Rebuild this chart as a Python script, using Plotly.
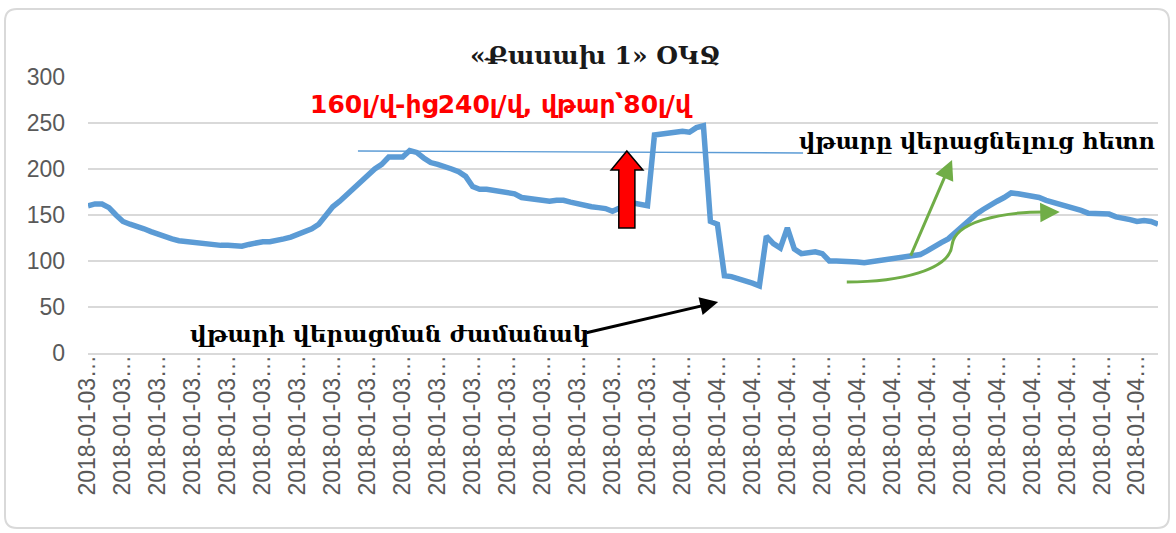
import plotly.graph_objects as go

# Flow readings (l/s), one sample every 0.2 of a tick-label interval
flow = [
    160, 162, 162, 158, 150, 143, 140, 138, 135, 132,
    129, 126, 124, 122, 121, 120, 120, 119, 118, 117,
    117, 116, 116, 118, 120, 121, 121, 122, 124, 126,
    129, 131, 135, 140, 149, 159, 165, 172, 179, 186,
    195, 200, 205, 213, 213, 213, 220, 218, 212, 207,
    205, 203, 200, 197, 192, 181, 178, 178, 177, 176,
    175, 173, 169, 168, 168, 167, 165, 166, 166, 164,
    162, 161, 159, 158, 157, 154, 158, 161, 163, 162,
    160, 237, 238, 239, 240, 241, 240, 245, 247, 143,
    140, 84, 83, 81, 79, 76, 73, 127, 119, 114,
    136, 113, 108, 109, 110, 108, 100, 100, 100, 99,
    99, 98, 99, 100, 101, 102, 104, 104, 105, 107,
    111, 116, 120, 124, 131, 138, 145, 151, 156, 161,
    165, 169, 174, 173, 172, 171, 169, 166, 164, 162,
    160, 158, 155, 152, 152, 152, 151, 148, 147, 145,
    143, 144, 143, 140,
]
SAMPLE_STEP = 0.2
sample_pos = [i * SAMPLE_STEP for i in range(len(flow))]

# Category tick labels (truncated timestamps)
tick_days = ["2018-01-03"] * 17 + ["2018-01-04"] * 14
tick_text = [d + "\u2026" for d in tick_days]
tick_pos = list(range(len(tick_days)))

title_text = "«Քասախ 1» ՕԿՋ"
jump_text = "160լ/վ-ից240լ/վ, վթար՝80լ/վ"
after_text = "վթարը վերացնելուց հետո"
during_text = "վթարի վերացման ժամանակ"

BLUE = "#5B9BD5"
GREEN = "#70AD47"
GRID = "#D9D9D9"
TICK_FONT = dict(family="Liberation Sans, Arial, sans-serif", size=23, color="#595959")
SERIF_B = "DejaVu Serif, serif"

W, H = 1176, 533
L, R, T, B = 88, 18, 77, 180
PW, PH = W - L - R, H - T - B


def px(x):
    return (x - L) / PW


def py(y):
    return (H - B - y) / PH


fig = go.Figure()
fig.add_trace(go.Scatter(
    x=sample_pos, y=flow, mode="lines",
    line=dict(color=BLUE, width=5.5, shape="linear"),
    hoverinfo="skip", showlegend=False,
))

shapes = []
# chart frame with rounded corners
x0, x1, y0, y1 = px(5), px(1169), py(9), py(528)
rx, ry = 12 / PW, 12 / PH
frame = (f"M {x0+rx},{y0} L {x1-rx},{y0} Q {x1},{y0} {x1},{y0-ry} "
         f"L {x1},{y1+ry} Q {x1},{y1} {x1-rx},{y1} L {x0+rx},{y1} "
         f"Q {x0},{y1} {x0},{y1+ry} L {x0},{y0-ry} Q {x0},{y0} {x0+rx},{y0} Z")
shapes.append(dict(type="path", xref="paper", yref="paper", path=frame,
                   line=dict(color=GRID, width=2), layer="below"))

# reference level line
shapes.append(dict(type="line", xref="x", yref="y", x0=7.72, y0=219.6, x1=20.45, y1=217.4,
                   line=dict(color=BLUE, width=1.4)))

# red block arrow
block = ("M 15.41,219.6 L 15.87,198.9 L 15.64,198.9 L 15.64,135.9 "
         "L 15.18,135.9 L 15.18,198.9 L 14.96,198.9 Z")
shapes.append(dict(type="path", xref="x", yref="y", path=block,
                   fillcolor="#FF0000", line=dict(color="black", width=1.5)))

# curved green arrow body
curve = ("M 21.70,77.2 C 23.22,77.2 24.65,90.2 24.71,117.4 "
         "C 24.79,142.4 26.08,153.3 27.37,153.3")
shapes.append(dict(type="path", xref="x", yref="y", path=curve,
                   line=dict(color=GREEN, width=3)))

annotations = [
    dict(text=f"<b>{title_text}</b>", xref="paper", yref="paper", x=px(595), y=py(55),
         xanchor="center", yanchor="middle", showarrow=False,
         font=dict(family=SERIF_B, size=25, color="#1a1a1a")),
    dict(text=f"<b>{jump_text}</b>", xref="paper", yref="paper", x=px(501), y=py(104),
         xanchor="center", yanchor="middle", showarrow=False,
         font=dict(family="DejaVu Sans, sans-serif", size=25, color="#FF0000")),
    dict(text=f"<b>{after_text}</b>", xref="paper", yref="paper", x=px(977), y=py(141),
         xanchor="center", yanchor="middle", showarrow=False,
         font=dict(family=SERIF_B, size=22.5, color="black")),
    dict(text=f"<b>{during_text}</b>", xref="paper", yref="paper", x=px(389), y=py(333),
         xanchor="center", yanchor="middle", showarrow=False,
         font=dict(family=SERIF_B, size=23, color="black")),
    # black arrow
    dict(x=18.02, y=55.4, ax=14.21, ay=21.7, xref="x", yref="y", axref="x", ayref="y",
         text="", showarrow=True, arrowhead=2, arrowsize=1.2, arrowwidth=3, arrowcolor="black"),
    # straight green arrow
    dict(x=24.71, y=209.8, ax=23.51, ay=104.3, xref="x", yref="y", axref="x", ayref="y",
         text="", showarrow=True, arrowhead=2, arrowsize=1.3, arrowwidth=3, arrowcolor=GREEN),
    # head of curved green arrow
    dict(x=27.79, y=153.3, ax=27.22, ay=152.8, xref="x", yref="y", axref="x", ayref="y",
         text="", showarrow=True, arrowhead=2, arrowsize=1.3, arrowwidth=3, arrowcolor=GREEN),
]

fig.update_layout(
    width=W, height=H,
    margin=dict(l=L, r=R, t=T, b=B, pad=0),
    paper_bgcolor="white", plot_bgcolor="white",
    shapes=shapes, annotations=annotations,
    showlegend=False,
    xaxis=dict(
        range=[0, sample_pos[-1]], tickmode="array", tickvals=tick_pos, ticktext=tick_text,
        tickangle=-90, tickfont=TICK_FONT, showgrid=False, zeroline=False,
        showline=True, linecolor=GRID, linewidth=1.5, ticks="", ticklabelstandoff=-9,
    ),
    yaxis=dict(
        range=[0, 300], dtick=50, tickfont=TICK_FONT, showgrid=True, gridcolor=GRID,
        gridwidth=1.5, zeroline=False, showline=False, ticks="", ticklabelstandoff=22,
    ),
)

fig.write_html("out.html")
